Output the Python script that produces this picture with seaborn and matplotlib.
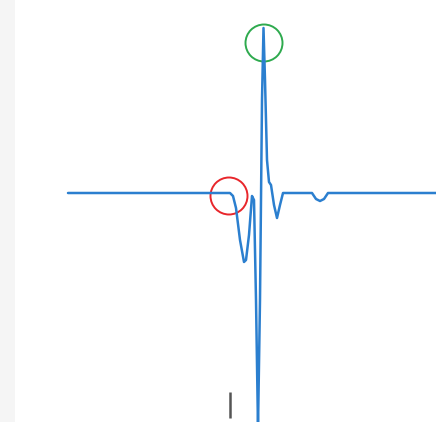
import matplotlib
matplotlib.use("Agg")
import matplotlib.pyplot as plt
from matplotlib.patches import Circle, Rectangle
import pandas as pd
import seaborn as sns

# sampled waveform (time, amplitude); baseline amplitude is 0
time = [68, 230, 233, 236, 240, 244, 246, 249, 252, 254, 256, 258, 260, 262,
        263.5, 265, 267, 269, 271, 274, 277, 280, 283, 312, 316, 320, 324, 328, 436]
amplitude = [0, 0, -3, -15, -47, -69, -67, -42, -3, -7, -107, -235, -107, 93,
             165, 113, 33, 11, 8, -12, -25, -12, 0, 0, -6, -8, -6, 0, 0]

# marked points (time, amplitude)
onset_mark = (229, -3)
peak_mark = (264, 150)
marker_time = 230

sns.set_theme(style="white")

df = pd.DataFrame({"time": time, "amplitude": amplitude})

fig = plt.figure(figsize=(4.36, 4.22), dpi=100)
fig.patch.set_facecolor("white")
fig.add_artist(Rectangle((0, 0), 15 / 436, 1, transform=fig.transFigure,
                         facecolor="#f5f5f5", edgecolor="none"))
ax = fig.add_axes([0, 0, 1, 1])
ax.set_facecolor("none")

sns.lineplot(data=df, x="time", y="amplitude", ax=ax, color="#2b7fcf",
             linewidth=1.8, sort=False, estimator=None)

ax.add_patch(Circle(onset_mark, 18.5, fill=False, edgecolor="#e8262b", linewidth=1.4))
ax.add_patch(Circle(peak_mark, 18.5, fill=False, edgecolor="#2eaa4e", linewidth=1.4))
ax.vlines(marker_time, -225, -199, color="#555555", linewidth=1.8)

ax.set_xlim(0, 436)
ax.set_ylim(-229, 193)
ax.axis("off")

fig.savefig("out.png", dpi=100)
